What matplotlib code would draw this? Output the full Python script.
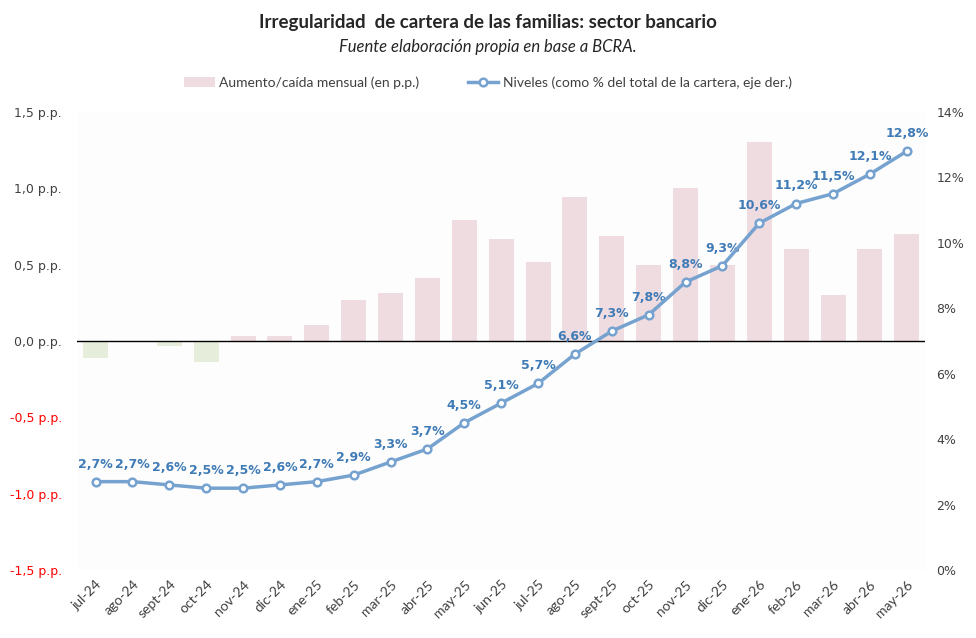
import matplotlib.pyplot as plt
from matplotlib.patches import Patch
from matplotlib.ticker import FuncFormatter

# monthly labels
months = ["jul-24", "ago-24", "sept-24", "oct-24", "nov-24", "dic-24", "ene-25",
          "feb-25", "mar-25", "abr-25", "may-25", "jun-25", "jul-25", "ago-25",
          "sept-25", "oct-25", "nov-25", "dic-25", "ene-26", "feb-26", "mar-26",
          "abr-26", "may-26"]

# monthly change (p.p.)
change = [-0.11, -0.01, -0.03, -0.14, 0.035, 0.03, 0.105, 0.27, 0.315, 0.41,
          0.79, 0.67, 0.52, 0.94, 0.69, 0.50, 1.00, 0.50, 1.30, 0.60, 0.30,
          0.60, 0.70]

# level (% of total portfolio)
level = [2.7, 2.7, 2.6, 2.5, 2.5, 2.6, 2.7, 2.9, 3.3, 3.7, 4.5, 5.1, 5.7, 6.6,
         7.3, 7.8, 8.8, 9.3, 10.6, 11.2, 11.5, 12.1, 12.8]

x = list(range(len(months)))
pink = "#efdce1"
green = "#e6eedb"
blue = "#76a2cf"

fig = plt.figure(figsize=(9.76, 6.38), dpi=100)
ax = fig.add_axes([0.079, 0.1066, 0.869, 0.718])
ax.set_facecolor("#fdfdfd")
ax2 = ax.twinx()

bar_colors = [pink if v >= 0 else green for v in change]
ax.bar(x, change, width=0.68, color=bar_colors, zorder=2)
ax.axhline(0, color="black", lw=1, zorder=3)

line, = ax2.plot(x, level, color=blue, lw=2.5, marker="o", ms=5.5,
                 mfc="white", mec=blue, mew=1.8, zorder=4)
for xi, v in zip(x, level):
    ax2.annotate(f"{v:.1f}%".replace(".", ","), (xi, v), xytext=(0, 8),
                 textcoords="offset points", ha="center", va="bottom",
                 fontsize=9, fontweight="bold", color="#3f7bb6")

ax.set_xlim(-0.5, len(months) - 0.5)
ax.set_ylim(-1.5, 1.5)
ax.set_yticks([-1.5, -1.0, -0.5, 0.0, 0.5, 1.0, 1.5])
ax.yaxis.set_major_formatter(FuncFormatter(lambda v, p: f"{v:.1f}".replace(".", ",") + " p.p."))
ax2.set_ylim(0, 14)
ax2.set_yticks(range(0, 15, 2))
ax2.yaxis.set_major_formatter(FuncFormatter(lambda v, p: f"{v:.0f}%"))

ax.set_xticks(x)
ax.set_xticklabels(months, rotation=45, ha="right", rotation_mode="anchor",
                   fontsize=10, color="#404040", family="Lato")
for lab in ax.get_yticklabels():
    lab.set_fontsize(9)
    lab.set_color("red" if lab.get_text().startswith("-") else "#404040")
for lab in ax2.get_yticklabels():
    lab.set_fontsize(9)
    lab.set_color("#404040")

for a in (ax, ax2):
    for s in a.spines.values():
        s.set_visible(False)
    a.tick_params(length=0)
ax.tick_params(axis="y", pad=11)
ax.tick_params(axis="x", pad=6)
ax2.tick_params(axis="y", pad=8)

fig.text(0.5, 0.965, "Irregularidad  de cartera de las familias: sector bancario",
         ha="center", va="center", fontsize=13.5, fontweight="bold",
         color="#262626", family="Lato")
fig.text(0.5, 0.926, "Fuente elaboración propia en base a BCRA.",
         ha="center", va="center", fontsize=12, style="italic",
         color="#262626", family="Lato")

bar_handle = Patch(facecolor=pink, edgecolor="none")
fig.legend([bar_handle, line], ["Aumento/caída mensual (en p.p.)",
                                "Niveles (como % del total de la cartera, eje der.)"],
           loc="center", bbox_to_anchor=(0.5, 0.871), ncol=2, frameon=False,
           prop={"family": "Lato", "size": 10}, handlelength=2.2,
           handletextpad=0.3, columnspacing=3.5, labelcolor="#404040")

fig.savefig("out.png", dpi=100)
